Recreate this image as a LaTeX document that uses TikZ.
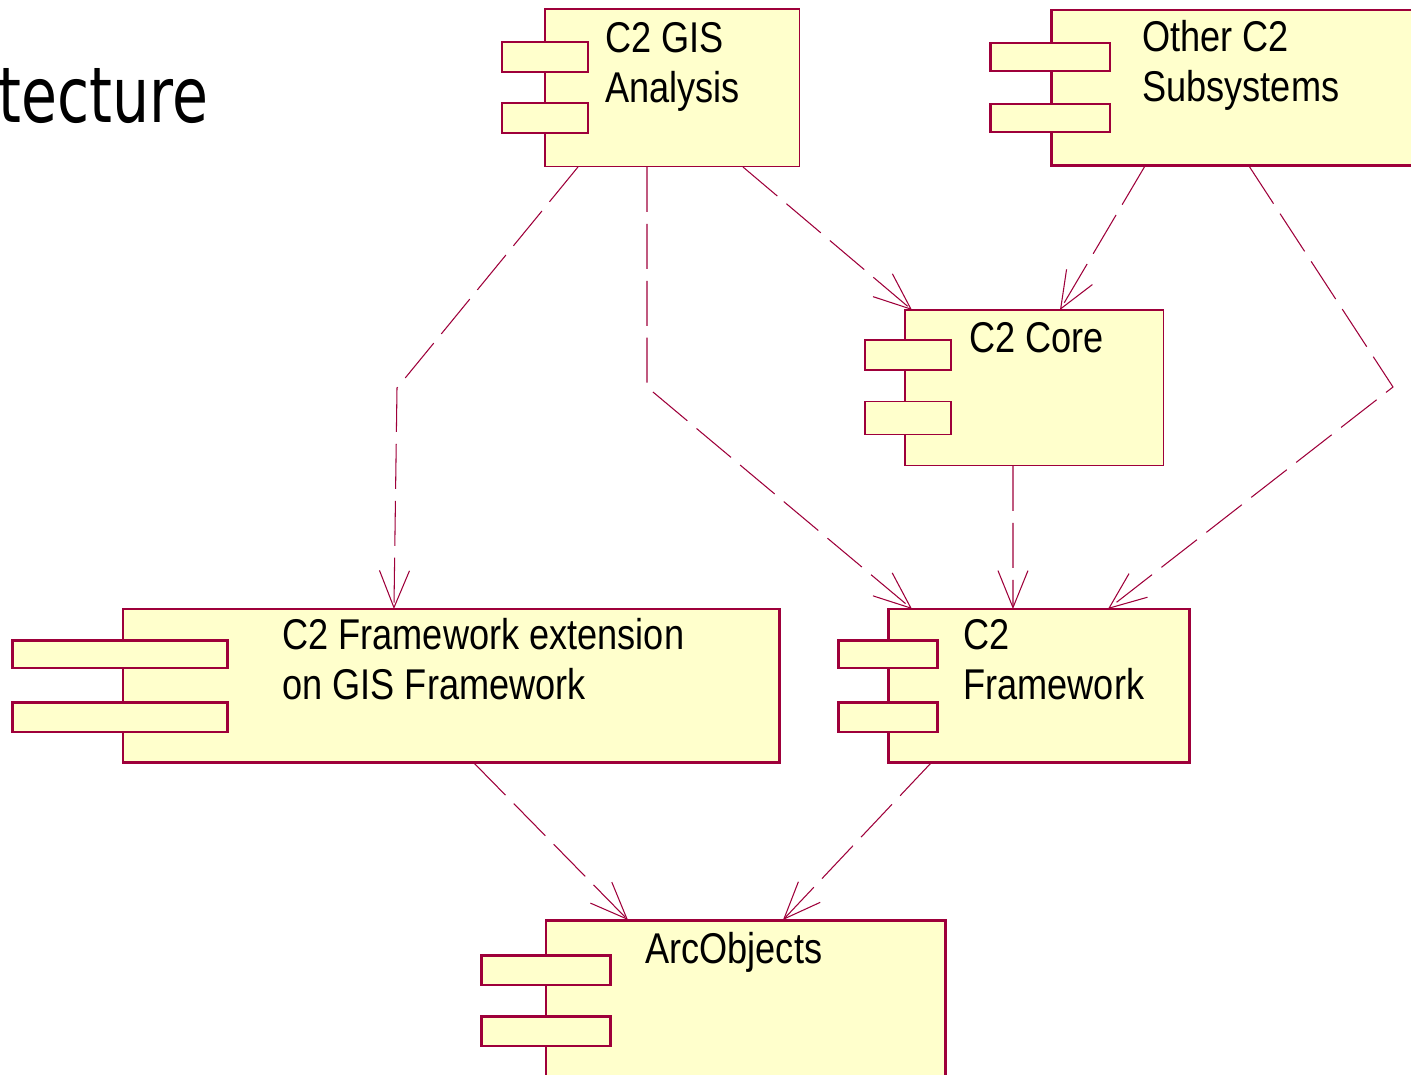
\documentclass[tikz,border=0pt]{standalone}
\usepackage{fontspec}
\setmainfont{Liberation Sans}[FakeStretch=0.84]
\newfontfamily\titlefont{DejaVu Sans}[FakeStretch=0.76]
\usetikzlibrary{arrows.meta}
\definecolor{umlred}{RGB}{158,0,58}
\definecolor{umlfill}{RGB}{255,255,204}
\tikzset{
  comp/.style={draw=umlred, fill=umlfill, line width=1.7pt, anchor=north west, inner sep=0pt, outer sep=0pt},
  thin comp/.style={comp, line width=0.6pt},
  tab/.style={draw=umlred, fill=umlfill, line width=1.7pt, minimum height=0.6cm, inner sep=0pt, outer sep=0pt},
  thin tab/.style={tab, line width=0.6pt},
  % base anchor of a two-line label is its last line
  lbl/.style={anchor=base west, inner sep=0pt, align=left, font=\fontsize{24.5}{28}\selectfont},
  dep/.style={draw=umlred, line width=0.6pt, dash pattern=on 25.6pt off 6.8pt, -{Straight Barb[length=0.74cm,width=0.6cm]}}
}
\begin{document}
\begin{tikzpicture}[x=0.02cm, y=-0.02cm]
  \useasboundingbox (0,0) rectangle (1411,1075);
  \clip (0,0) rectangle (1411,1075);

  % title, cut off at the left
  \node[anchor=base west, inner sep=0pt, font=\titlefont\fontsize{43.8}{50}\selectfont] (title) at (-2,122) {tecture};

  % components
  \node[thin comp, minimum width=5.1cm, minimum height=3.16cm] (gis) at (545,9) {};
  \node[thin tab, minimum width=1.72cm] (gist1) at (545,57) {};
  \node[thin tab, minimum width=1.72cm] (gist2) at (545,118) {};
  \node[lbl] (gisl) at (605,102) {C2 GIS\\Analysis};

  \node[comp, minimum width=8.18cm, minimum height=3.12cm] (other) at (1051,10) {};
  \node[tab, minimum width=2.4cm, minimum height=0.56cm] (othert1) at (1050,57) {};
  \node[tab, minimum width=2.4cm, minimum height=0.56cm] (othert2) at (1050,118) {};
  \node[lbl] (otherl) at (1142,101) {Other C2\\Subsystems};

  \node[thin comp, minimum width=5.18cm, minimum height=3.12cm] (core) at (905,310) {};
  \node[thin tab, minimum width=1.72cm] (coret1) at (908,355) {};
  \node[thin tab, minimum width=1.72cm, minimum height=0.66cm] (coret2) at (908,418) {};
  \node[lbl] (corel) at (969,352) {C2 Core};

  \node[comp, minimum width=13.14cm, minimum height=3.08cm] (ext) at (123,609) {};
  \node[tab, minimum width=4.32cm, minimum height=0.56cm] (extt1) at (120,654) {};
  \node[tab, minimum width=4.32cm] (extt2) at (120,717) {};
  \node[lbl] (extl) at (282,699) {C2 Framework extension\\on GIS Framework};

  \node[comp, minimum width=6.04cm, minimum height=3.08cm] (fw) at (888,609) {};
  \node[tab, minimum width=1.98cm, minimum height=0.56cm] (fwt1) at (888,654) {};
  \node[tab, minimum width=1.98cm] (fwt2) at (888,717) {};
  \node[lbl] (fwl) at (963,699) {C2\\Framework};

  \node[comp, minimum width=8cm, minimum height=3.8cm] (arc) at (546,920) {};
  \node[tab, minimum width=2.6cm] (arct1) at (546,970) {};
  \node[tab, minimum width=2.6cm] (arct2) at (546,1031) {};
  \node[lbl] (arcl) at (645,963) {ArcObjects};

  % dependencies
  \draw[dep] ([xshift=0.66cm]gis.south west) -- (397,388) -- ([xshift=5.42cm]ext.north west);
  \draw[dep] ([xshift=2.04cm]gis.south west) -- (647,387) -- ([xshift=0.48cm]fw.north west);
  \draw[dep] ([xshift=3.96cm]gis.south west) -- ([xshift=0.14cm]core.north west);
  \draw[dep] ([xshift=1.88cm]other.south west) -- ([xshift=3.1cm]core.north west);
  \draw[dep] ([xshift=3.96cm]other.south west) -- (1393,387) -- ([xshift=4.4cm]fw.north west);
  \draw[dep] ([xshift=2.16cm]core.south west) -- ([xshift=2.5cm]fw.north west);
  \draw[dep] ([xshift=7.02cm]ext.south west) -- ([xshift=1.64cm]arc.north west);
  \draw[dep] ([xshift=0.86cm]fw.south west) -- ([xshift=4.74cm]arc.north west);
\end{tikzpicture}
\end{document}
